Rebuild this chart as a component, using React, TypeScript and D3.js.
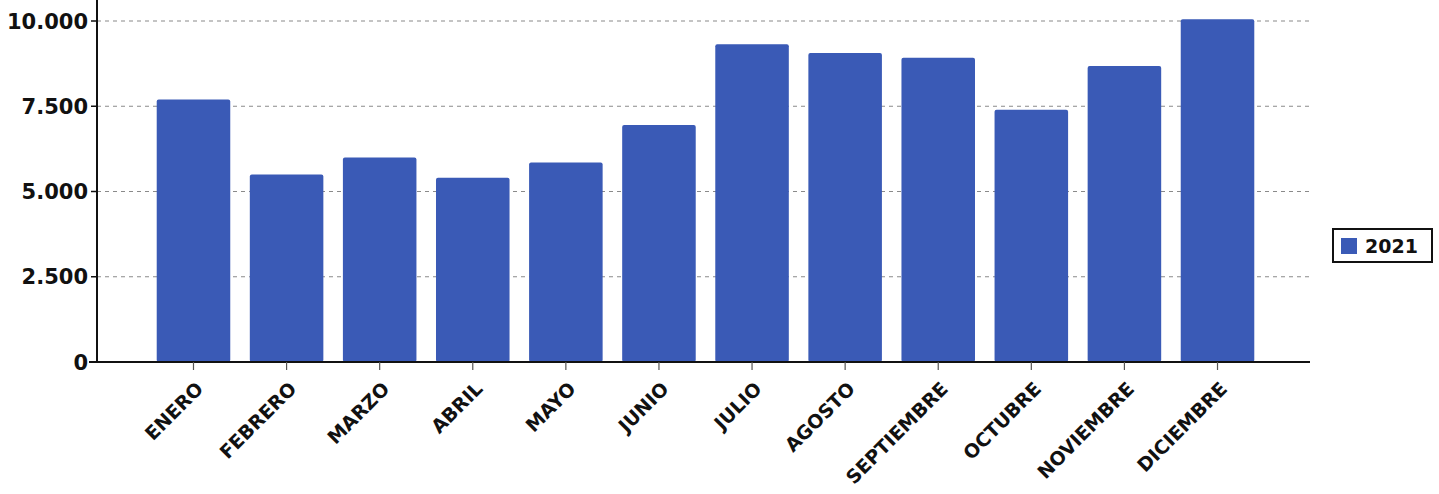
import React from "react";
import * as d3 from "d3";

const months = ["ENERO","FEBRERO","MARZO","ABRIL","MAYO","JUNIO","JULIO","AGOSTO","SEPTIEMBRE","OCTUBRE","NOVIEMBRE","DICIEMBRE"];
const values2021 = [7700, 5500, 6000, 5400, 5850, 6950, 9320, 9060, 8920, 7400, 8680, 10050];
const yTicks = [0, 2500, 5000, 7500, 10000];
const seriesName = "2021";

const W = 1439, H = 494;
const left = 97, right = 1312, top = 21, bottom = 362;
const BLUE = "#3a5ab6";

export default function App() {
  const x = d3.scaleBand<string>().domain(months).range([left + 2, right]).paddingInner(0.21).paddingOuter(0.62);
  const y = d3.scaleLinear().domain([0, 10000]).range([bottom, top]);
  const fmt = (v: number) => d3.format(",")(v).replace(/,/g, ".");
  return (
    <svg width={W} height={H} style={{ position: "absolute", left: 0, top: 0, background: "#fff" }}
      fontFamily="'DejaVu Sans', Verdana, sans-serif">
      {yTicks.filter(t => t > 0).map(t => (
        <line key={t} x1={left} x2={1310} y1={y(t)} y2={y(t)} stroke="#8a8a8a" strokeWidth={1.2} strokeDasharray="4,4" />
      ))}
      {months.map((m, i) => (
        <rect key={m} x={x(m)} y={y(values2021[i])} width={x.bandwidth()} height={bottom - y(values2021[i])} fill={BLUE} rx={2} />
      ))}
      <line x1={left} x2={left} y1={0} y2={bottom} stroke="#111" strokeWidth={2} />
      <line x1={left - 8} x2={1310} y1={bottom} y2={bottom} stroke="#111" strokeWidth={2} />
      {yTicks.map(t => (
        <g key={t}>
          <line x1={left - 6} x2={left} y1={y(t)} y2={y(t)} stroke="#111" strokeWidth={1.5} />
          <text x={left - 9} y={y(t)} dy="0.36em" textAnchor="end" fontSize={21} fontWeight="bold" fill="#111">{fmt(t)}</text>
        </g>
      ))}
      {months.map(m => {
        const cx = (x(m) as number) + x.bandwidth() / 2;
        return (
          <g key={m}>
            <line x1={cx} x2={cx} y1={bottom} y2={bottom + 8} stroke="#555" strokeWidth={1.2} />
            <text transform={`translate(${cx + 11},${bottom + 28}) rotate(-45)`} textAnchor="end" fontSize={19} fontWeight="bold" fill="#111">{m}</text>
          </g>
        );
      })}
      <g transform="translate(1333,229)">
        <rect x={0} y={0} width={99} height={33} fill="#fff" stroke="#111" strokeWidth={2} />
        <rect x={8} y={9} width={16} height={16} fill={BLUE} />
        <text x={32} y={17} dy="0.36em" fontSize={19} fontWeight="bold" fill="#111">{seriesName}</text>
      </g>
    </svg>
  );
}
